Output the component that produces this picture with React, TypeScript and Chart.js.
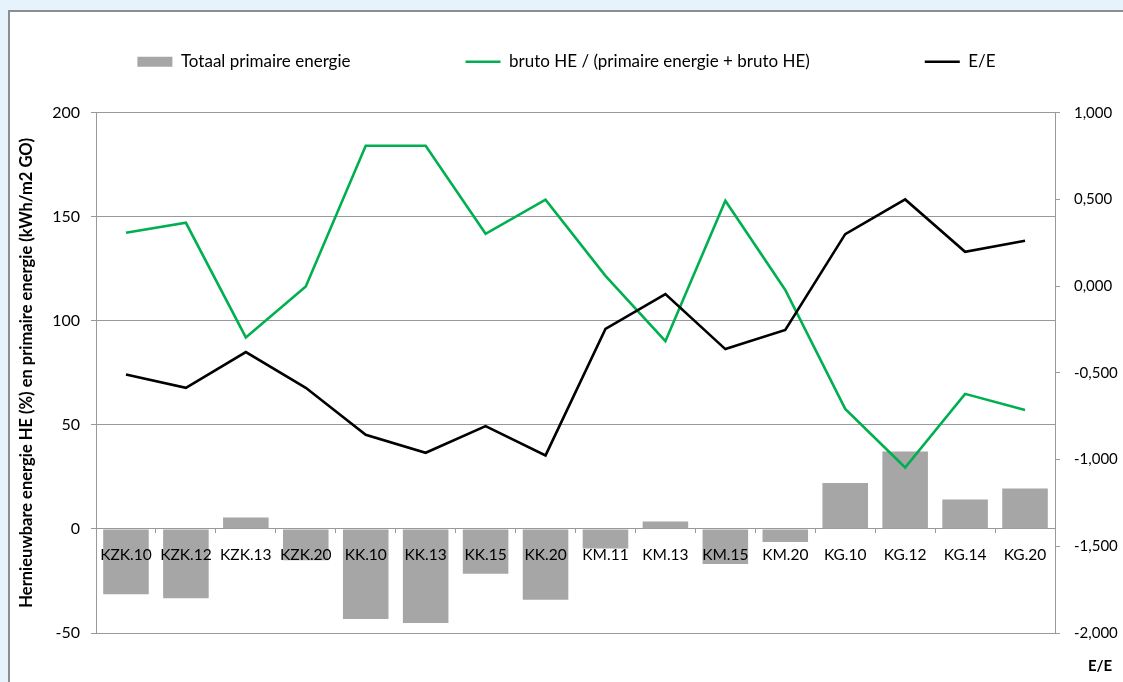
import React, { useEffect, useRef } from "react";
import { Chart, registerables } from "chart.js";

Chart.register(...registerables);

const categories = [
  "KZK.10", "KZK.12", "KZK.13", "KZK.20",
  "KK.10", "KK.13", "KK.15", "KK.20",
  "KM.11", "KM.13", "KM.15", "KM.20",
  "KG.10", "KG.12", "KG.14", "KG.20",
];
const totaalPrimaireEnergie = [
  -31.4, -33.3, 5.5, -15.0, -43.3, -45.2, -21.5, -34.0,
  -9.4, 3.6, -16.9, -6.3, 22.1, 37.2, 14.2, 19.4,
];
const brutoHEAandeel = [
  142.3, 147.1, 92.0, 116.5, 184.1, 184.1, 141.8, 158.2,
  121.6, 90.2, 157.7, 114.8, 57.7, 29.5, 64.9, 57.1,
];
const eOverE = [
  -0.509, -0.586, -0.38, -0.586, -0.857, -0.961, -0.807, -0.976,
  -0.247, -0.046, -0.363, -0.253, 0.3, 0.5, 0.198, 0.262,
];

const seriesLabels = [
  "Totaal primaire energie",
  "bruto HE / (primaire energie + bruto HE)",
  "E/E",
];
const leftAxisTitle = "Hernieuwbare energie HE (%) en primaire energie (kWh/m2 GO)";
const rightAxisTitle = "E/E";

const FONT = "Lato, 'Open Sans', sans-serif";
const GRID = "#999999";

const rightTitlePlugin = {
  id: "rightTitle",
  afterDraw(chart: any) {
    const s = chart.scales.y2;
    const ctx = chart.ctx;
    ctx.save();
    ctx.font = `bold 15px ${FONT}`;
    ctx.fillStyle = "#000";
    ctx.textAlign = "center";
    ctx.textBaseline = "middle";
    ctx.fillText(rightAxisTitle, s.left + 45, s.bottom + 33);
    ctx.restore();
  },
};

export default function App() {
  const ref = useRef<HTMLCanvasElement | null>(null);

  useEffect(() => {
    if (!ref.current) return;
    const chart = new Chart(ref.current, {
      type: "bar",
      data: {
        labels: categories,
        datasets: [
          {
            type: "bar",
            label: seriesLabels[0],
            data: totaalPrimaireEnergie,
            backgroundColor: "#a6a6a6",
            borderWidth: 0,
            yAxisID: "y",
            order: 3,
            pointStyle: "rect",
            categoryPercentage: 1,
            barPercentage: 0.76,
          } as any,
          {
            type: "line",
            label: seriesLabels[1],
            data: brutoHEAandeel,
            borderColor: "#00b050",
            backgroundColor: "#00b050",
            borderWidth: 2.6,
            pointRadius: 0,
            tension: 0,
            yAxisID: "y",
            order: 2,
            pointStyle: "line",
          } as any,
          {
            type: "line",
            label: seriesLabels[2],
            data: eOverE,
            borderColor: "#000000",
            backgroundColor: "#000000",
            borderWidth: 2.6,
            pointRadius: 0,
            tension: 0,
            yAxisID: "y2",
            order: 1,
            pointStyle: "line",
          } as any,
        ],
      },
      options: {
        responsive: false,
        animation: false,
        layout: { padding: { left: 10, right: 0, top: -61.8, bottom: 49 } },
        plugins: {
          tooltip: { enabled: false },
          legend: {
            position: "top",
            labels: {
              usePointStyle: true,
              pointStyleWidth: 35,
              boxHeight: 10,
              padding: 115,
              color: "#000",
              font: { family: FONT, size: 17 },
              sort: (a: any, b: any) => a.datasetIndex - b.datasetIndex,
            },
          },
          title: {
            display: true,
            text: " ",
            position: "top",
            weight: 500,
            font: { size: 10 },
            padding: { top: 10, bottom: 10.5 },
          } as any,
        },
        scales: {
          x: {
            type: "category",
            position: { y: 0 } as any,
            offset: true,
            grid: {
              display: true,
              drawOnChartArea: false,
              drawTicks: true,
              tickLength: 4,
              offset: true,
              color: GRID,
            },
            border: { display: true, color: GRID, width: 1 },
            ticks: {
              z: 1,
              color: "#000",
              font: { family: FONT, size: 15.5 },
              padding: 13,
              autoSkip: false,
              maxRotation: 0,
              minRotation: 0,
            },
          },
          y: {
            type: "linear",
            position: "left",
            min: -50,
            max: 200,
            ticks: {
              stepSize: 50,
              color: "#000",
              font: { family: FONT, size: 16 },
              padding: 11,
            },
            grid: {
              color: GRID,
              lineWidth: 1,
              drawTicks: true,
              tickLength: 5,
            },
            border: { display: true, color: GRID, width: 1 },
            title: {
              display: true,
              text: leftAxisTitle,
              color: "#000",
              font: { family: FONT, size: 16.5, weight: "bold" },
              padding: { top: 7.1, bottom: 0 },
            },
            afterFit: (s: any) => {
              s.width = 86;
            },
          },
          y2: {
            type: "linear",
            position: "right",
            min: -2,
            max: 1,
            ticks: {
              stepSize: 0.5,
              color: "#000",
              font: { family: FONT, size: 15 },
              padding: 14,
              callback: (v: any) => Number(v).toFixed(3).replace(".", ","),
            },
            grid: {
              drawOnChartArea: false,
              drawTicks: true,
              tickLength: 5,
              color: GRID,
            },
            border: { display: true, color: GRID, width: 1 },
            afterFit: (s: any) => {
              s.width = 68;
            },
          },
        },
      },
      plugins: [rightTitlePlugin],
    });
    return () => chart.destroy();
  }, []);

  return (
    <div
      style={{
        position: "fixed",
        left: 0,
        top: 0,
        width: 1123,
        height: 682,
        background: "#e6f2fc",
        overflow: "hidden",
      }}
    >
      <div
        style={{
          position: "absolute",
          left: 8,
          top: 10,
          width: 1140,
          height: 700,
          background: "#ffffff",
          border: "2px solid #8e8e8e",
          boxSizing: "border-box",
        }}
      />
      <canvas
        ref={ref}
        width={1123}
        height={682}
        style={{ position: "absolute", left: 0, top: 0, width: 1123, height: 682 }}
      />
    </div>
  );
}
